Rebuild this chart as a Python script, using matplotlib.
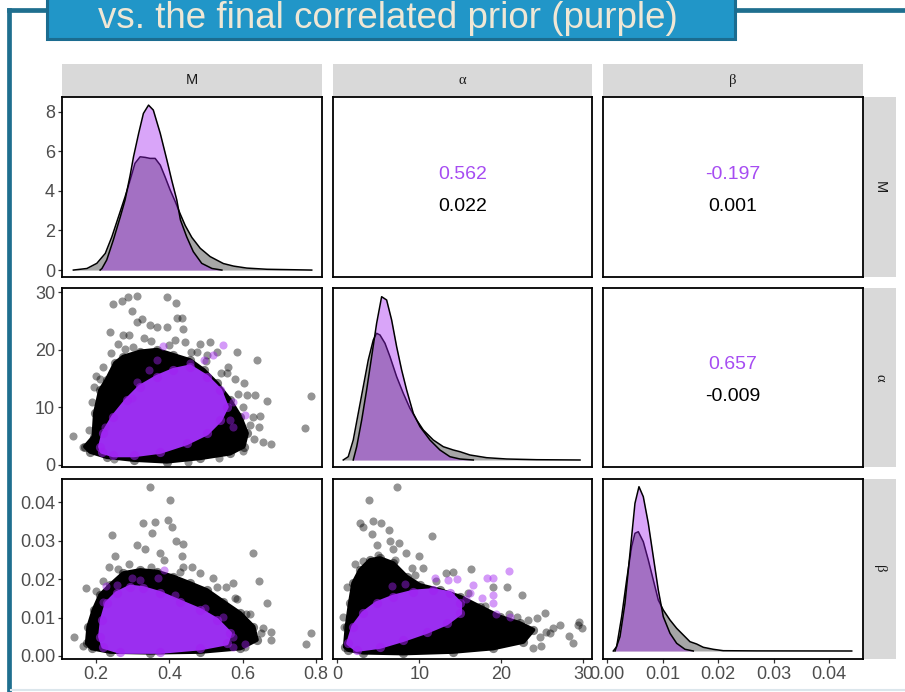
import matplotlib.pyplot as plt
from matplotlib.patches import Rectangle
from matplotlib.lines import Line2D

plt.rcParams['font.family'] = ['Liberation Sans', 'DejaVu Sans']

W, H = 905, 692
PURPLE = '#A020F0'
PURPLE_CORE = '#9b2ef0'
PURPLE_TEXT = '#a64cf2'

title = 'vs. the final correlated prior (purple)'
var_labels = ['M', 'α', 'β']

# ---- correlations: final correlated prior (purple) vs initial prior (black) ----
corr_cells = [(0, 1), (0, 2), (1, 2)]
corr_final = [0.562, -0.197, 0.657]
corr_initial = [0.022, 0.001, -0.009]

# ---- marginal densities ----
dens_M_init_x = [0.138, 0.175, 0.202, 0.225, 0.243, 0.261, 0.279, 0.293, 0.306, 0.320, 0.334, 0.347,
                 0.361, 0.375, 0.388, 0.402, 0.416, 0.429, 0.443, 0.461, 0.484, 0.511, 0.547, 0.575,
                 0.611, 0.666, 0.788]
dens_M_init_y = [0.00, 0.08, 0.34, 0.84, 1.68, 2.69, 3.70, 4.55, 5.39, 5.72, 5.69, 5.64,
                 5.64, 5.30, 4.71, 4.04, 3.45, 2.85, 2.25, 1.65, 1.10, 0.68, 0.33, 0.20,
                 0.10, 0.04, 0.00]
dens_M_final_x = [0.211, 0.216, 0.229, 0.247, 0.266, 0.279, 0.293, 0.302, 0.316, 0.329, 0.343, 0.356,
                  0.375, 0.393, 0.406, 0.420, 0.430, 0.447, 0.465, 0.488, 0.516, 0.543]
dens_M_final_y = [0.00, 0.08, 0.51, 1.52, 2.69, 3.54, 4.80, 5.72, 6.90, 7.91, 8.33, 8.08,
                  6.90, 5.56, 4.55, 3.54, 2.53, 1.68, 0.93, 0.34, 0.08, 0.00]

dens_a_init_x = [0.73, 1.34, 1.95, 2.56, 3.17, 3.78, 4.39, 4.80, 5.21, 5.82, 6.43, 7.24, 8.05,
                 8.86, 9.68, 10.49, 11.71, 12.93, 14.15, 14.96, 16.18, 18.22, 20.66, 24.32, 29.6]
dens_a_init_y = [0.0, 0.0033, 0.020, 0.0467, 0.0733, 0.100, 0.120, 0.1267, 0.125, 0.1167, 0.1033,
                 0.0833, 0.0667, 0.0517, 0.040, 0.030, 0.020, 0.0133, 0.010, 0.0083, 0.005,
                 0.0023, 0.001, 0.0003, 0.0]
dens_a_final_x = [1.95, 2.37, 2.98, 3.58, 4.19, 4.80, 5.41, 6.02, 6.63, 7.24, 7.85, 8.46, 9.27,
                  10.09, 11.30, 12.52, 13.74, 14.96, 16.59]
dens_a_final_y = [0.0, 0.0133, 0.040, 0.070, 0.1033, 0.1367, 0.1633, 0.160, 0.140, 0.1133, 0.090,
                  0.070, 0.0467, 0.0333, 0.020, 0.010, 0.0033, 0.001, 0.0]

dens_b_init_x = [0.00108, 0.00169, 0.00259, 0.00349, 0.00439, 0.00499, 0.00559, 0.00649, 0.00739,
                 0.00829, 0.00919, 0.01009, 0.01130, 0.01250, 0.01370, 0.01490, 0.01610, 0.01730,
                 0.01910, 0.02090, 0.02692, 0.04404]
dens_b_init_y = [0, 4.3, 34.3, 71, 104.3, 117.7, 119.3, 109.3, 91, 71, 51, 41, 31, 22.7, 16, 9.3,
                 7, 3.7, 1.7, 0.3, 0.1, 0]
dens_b_final_x = [0.00139, 0.00229, 0.00319, 0.00409, 0.00499, 0.00571, 0.00649, 0.00739, 0.00829,
                  0.00919, 0.01009, 0.01130, 0.01250, 0.01400, 0.01550]
dens_b_final_y = [0, 14.3, 47.7, 97.7, 147.7, 164.3, 154.3, 127.7, 94.3, 61, 34.3, 17.7, 7.7, 1.7, 0]

# ---- M vs alpha: dense cores (outline of the overplotted cloud) and loose points ----
ma_black_core_M = [0.170, 0.193, 0.197, 0.211, 0.229, 0.252, 0.274, 0.320, 0.366, 0.411, 0.456, 0.493,
                   0.529, 0.565, 0.593, 0.611, 0.602, 0.565, 0.484, 0.393, 0.302, 0.229, 0.184]
ma_black_core_a = [3.2, 4.9, 9.0, 13.0, 14.8, 17.7, 18.8, 19.7, 20.0, 19.1, 18.2, 16.5,
                   14.2, 11.3, 8.4, 5.5, 3.2, 2.0, 1.2, 0.6, 0.9, 1.4, 2.3]
ma_purple_core_M = [0.211, 0.220, 0.247, 0.284, 0.320, 0.366, 0.411, 0.456, 0.502, 0.538, 0.556, 0.538,
                    0.502, 0.447, 0.375, 0.302, 0.247, 0.216]
ma_purple_core_a = [3.2, 5.5, 8.4, 11.3, 13.6, 15.3, 16.5, 17.1, 15.3, 13.0, 10.1, 7.8,
                    5.5, 3.8, 2.3, 1.7, 1.7, 2.3]
ma_black_pts_M = [0.138, 0.165, 0.247, 0.270, 0.288, 0.311, 0.297, 0.393, 0.418, 0.238, 0.274, 0.311,
                  0.325, 0.347, 0.366, 0.393, 0.420, 0.434, 0.436, 0.415, 0.443, 0.484, 0.511, 0.475,
                  0.502, 0.529, 0.585, 0.638, 0.556, 0.602, 0.611, 0.634, 0.588, 0.665, 0.647, 0.629,
                  0.643, 0.656, 0.676, 0.534, 0.785, 0.771, 0.193, 0.211, 0.216,
                  0.26, 0.29, 0.33, 0.30, 0.24, 0.22, 0.20, 0.56, 0.58, 0.60, 0.62, 0.63, 0.60, 0.45, 0.25,
                  0.28, 0.35, 0.40, 0.46, 0.50, 0.54, 0.19, 0.18]
ma_black_pts_a = [5.0, 3.1, 28.0, 28.5, 29.2, 29.4, 26.8, 29.1, 28.1, 23.1, 22.6, 24.9,
                  25.3, 24.3, 24.0, 24.0, 25.5, 25.6, 23.7, 21.7, 21.4, 21.1, 21.4, 19.7,
                  19.1, 19.7, 19.6, 18.3, 15.9, 14.2, 12.2, 12.2, 12.4, 11.1, 8.5, 8.4,
                  6.6, 4.0, 3.6, 1.3, 12.0, 6.5, 13.6, 15.0, 11.9,
                  21.0, 22.5, 22.0, 20.5, 19.5, 17.0, 15.5, 17.0, 15.0, 10.0, 7.0, 4.5, 2.5, 0.5, 1.0,
                  20.2, 21.5, 20.8, 19.6, 18.0, 16.0, 11.0, 6.0]
ma_purple_pts_M = [0.545, 0.383, 0.520, 0.493, 0.456, 0.343, 0.366, 0.297, 0.606, 0.574, 0.574, 0.565,
                   0.225, 0.311]
ma_purple_pts_a = [20.8, 20.7, 19.1, 18.2, 17.7, 16.5, 18.2, 11.6, 8.7, 11.0, 6.6, 7.8, 6.6, 14.5]

# ---- M vs beta ----
mb_black_core_M = [0.175, 0.179, 0.193, 0.211, 0.238, 0.274, 0.320, 0.366, 0.411, 0.456, 0.502, 0.547,
                   0.593, 0.629, 0.638, 0.593, 0.484, 0.347, 0.238, 0.188]
mb_black_core_b = [0.0033, 0.0076, 0.0119, 0.0158, 0.0184, 0.0215, 0.0223, 0.0219, 0.0206, 0.0189,
                   0.0171, 0.0141, 0.0111, 0.0076, 0.0042, 0.0020, 0.0011, 0.0009, 0.0011, 0.0020]
mb_purple_core_M = [0.211, 0.216, 0.229, 0.256, 0.293, 0.329, 0.375, 0.429, 0.484, 0.529, 0.565, 0.556,
                    0.484, 0.375, 0.265, 0.220]
mb_purple_core_b = [0.0050, 0.0094, 0.0137, 0.0163, 0.0180, 0.0176, 0.0163, 0.0141, 0.0119, 0.0094,
                    0.0059, 0.0033, 0.0020, 0.0011, 0.0011, 0.0024]
mb_black_pts_M = [0.140, 0.165, 0.173, 0.243, 0.234, 0.252, 0.329, 0.347, 0.361, 0.352, 0.311, 0.334,
                  0.402, 0.397, 0.406, 0.418, 0.438, 0.434, 0.436, 0.461, 0.484, 0.520, 0.555, 0.574,
                  0.585, 0.609, 0.629, 0.645, 0.665, 0.656, 0.676, 0.676, 0.606, 0.773, 0.785, 0.375,
                  0.384, 0.26, 0.29, 0.35, 0.43, 0.53, 0.58, 0.62, 0.65, 0.20, 0.22]
mb_black_pts_b = [0.0050, 0.0026, 0.0177, 0.0314, 0.0232, 0.0260, 0.0345, 0.0440, 0.0347, 0.0319,
                  0.0288, 0.0277, 0.0405, 0.0353, 0.0334, 0.0300, 0.0291, 0.0260, 0.0232, 0.0230,
                  0.0215, 0.0202, 0.0180, 0.0189, 0.0147, 0.0109, 0.0267, 0.0195, 0.0139, 0.0072,
                  0.0063, 0.0042, 0.0024, 0.0030, 0.0059, 0.0267, 0.0249, 0.0225, 0.0238, 0.0232,
                  0.0218, 0.0180, 0.0150, 0.0110, 0.0060, 0.0170, 0.0195]
mb_purple_pts_M = [0.227, 0.256, 0.297, 0.320, 0.370, 0.384, 0.415, 0.497, 0.545, 0.574, 0.606, 0.574,
                   0.220]
mb_purple_pts_b = [0.0182, 0.0184, 0.0202, 0.0197, 0.0202, 0.0223, 0.0158, 0.0124, 0.0102, 0.0050,
                   0.0031, 0.0024, 0.0141]

# ---- alpha vs beta ----
ab_black_core_a = [0.94, 1.15, 1.55, 1.95, 2.77, 3.99, 5.21, 6.83, 8.46, 10.09, 12.52, 14.96,
                   17.40, 19.84, 22.28, 23.9, 22.7, 19.0, 14.1, 8.05, 3.17, 1.34]
ab_black_core_b = [0.0024, 0.0076, 0.0137, 0.0189, 0.0223, 0.0249, 0.0254, 0.0241, 0.0206, 0.0184,
                   0.0171, 0.0154, 0.0128, 0.0102, 0.0085, 0.0068, 0.0037, 0.0020, 0.0011, 0.0007,
                   0.0009, 0.0016]
ab_purple_core_a = [1.34, 1.95, 3.17, 4.80, 6.83, 9.27, 11.71, 13.74, 14.96, 14.96, 13.34, 10.9,
                    8.05, 5.21, 2.37]
ab_purple_core_b = [0.0033, 0.0076, 0.0111, 0.0137, 0.0154, 0.0167, 0.0171, 0.0163, 0.0137, 0.0111,
                    0.0085, 0.0063, 0.0042, 0.0024, 0.0016]
ab_black_pts_a = [7.24, 3.87, 2.77, 3.10, 4.32, 5.33, 6.34, 4.19, 4.88, 6.43, 7.56, 6.83, 8.38,
                  10.0, 11.5, 3.17, 9.07, 10.4, 13.3, 14.1, 16.3, 19.0, 20.7, 22.5, 21.9, 23.3,
                  24.3, 25.3, 26.3, 27.1, 24.7, 25.9, 23.9, 24.9, 28.2, 28.8, 29.5, 29.8, 29.3,
                  0.73, 0.82, 2.2, 5.0, 7.0, 9.5, 12.0, 16.0, 18.0, 21.0, 25.5, 1.2]
ab_black_pts_b = [0.0440, 0.0405, 0.0346, 0.0334, 0.0351, 0.0345, 0.0327, 0.0317, 0.0288, 0.0300,
                  0.0293, 0.0277, 0.0268, 0.0260, 0.0312, 0.0248, 0.0228, 0.0228, 0.0216, 0.0219,
                  0.0225, 0.0180, 0.0180, 0.0158, 0.0102, 0.0094, 0.0098, 0.0111, 0.0072, 0.0081,
                  0.0050, 0.0059, 0.0020, 0.0027, 0.0052, 0.0033, 0.0089, 0.0072, 0.0081, 0.0102,
                  0.0076, 0.0240, 0.0262, 0.0250, 0.0210, 0.0195, 0.0165, 0.0130, 0.0110, 0.0062,
                  0.0180]
ab_purple_pts_a = [21.0, 18.2, 19.0, 16.5, 14.6, 13.5, 11.9, 16.2, 15.7, 19.0, 19.0, 17.6, 19.4,
                   21.1, 6.63, 8.26]
ab_purple_pts_b = [0.0222, 0.0202, 0.0202, 0.0184, 0.0199, 0.0197, 0.0202, 0.0163, 0.0147, 0.0158,
                   0.0137, 0.0150, 0.0109, 0.0102, 0.0182, 0.0186]

densities = {
    0: (dens_M_init_x, dens_M_init_y, dens_M_final_x, dens_M_final_y),
    1: (dens_a_init_x, dens_a_init_y, dens_a_final_x, dens_a_final_y),
    2: (dens_b_init_x, dens_b_init_y, dens_b_final_x, dens_b_final_y),
}
scatters = {
    (1, 0): (ma_black_core_M, ma_black_core_a, ma_purple_core_M, ma_purple_core_a,
             ma_black_pts_M, ma_black_pts_a, ma_purple_pts_M, ma_purple_pts_a),
    (2, 0): (mb_black_core_M, mb_black_core_b, mb_purple_core_M, mb_purple_core_b,
             mb_black_pts_M, mb_black_pts_b, mb_purple_pts_M, mb_purple_pts_b),
    (2, 1): (ab_black_core_a, ab_black_core_b, ab_purple_core_a, ab_purple_core_b,
             ab_black_pts_a, ab_black_pts_b, ab_purple_pts_a, ab_purple_pts_b),
}

# axis ranges
x_ranges = [(0.107, 0.816), (-0.52, 31.06), (-0.00077, 0.04607)]
y_ranges = [(-0.35, 8.74), (-0.35, 30.75), (-0.00078, 0.046)]
diag_y_ranges = [(-0.35, 8.74), (-0.007, 0.172), (-8.0, 172.0)]
x_ticks = [[0.2, 0.4, 0.6, 0.8], [0, 10, 20, 30], [0.00, 0.01, 0.02, 0.03, 0.04]]
x_ticklabels = [['0.2', '0.4', '0.6', '0.8'], ['0', '10', '20', '30'],
                ['0.00', '0.01', '0.02', '0.03', '0.04']]
y_ticks = [[0, 2, 4, 6, 8], [0, 10, 20, 30], [0.00, 0.01, 0.02, 0.03, 0.04]]
y_ticklabels = [['0', '2', '4', '6', '8'], ['0', '10', '20', '30'],
                ['0.00', '0.01', '0.02', '0.03', '0.04']]

# panel pixel boxes
col_px = [(62, 322), (333, 592), (603, 863)]
row_px = [(97, 277), (288, 467), (479, 659)]
PT_SIZE = 34

fig = plt.figure(figsize=(W / 100, H / 100), dpi=100)


def px_axes(x0, y0, x1, y1):
    return fig.add_axes([x0 / W, 1 - y1 / H, (x1 - x0) / W, (y1 - y0) / H])


def strip(ax, label, rotation=0):
    ax.set_facecolor('#d9d9d9')
    ax.set_xticks([])
    ax.set_yticks([])
    for s in ax.spines.values():
        s.set_visible(False)
    fam = ['Liberation Sans'] if label == 'M' else ['Liberation Serif', 'DejaVu Serif']
    ax.text(0.5, 0.5, label, transform=ax.transAxes, ha='center', va='center',
            fontsize=10.5, color='#1a1a1a', rotation=rotation, family=fam)


# ===================== slide decoration =====================
frame_col = '#1f6f8f'
fig.add_artist(Line2D([9 / W, 9 / W], [1 - 10 / H, 0], color=frame_col, lw=3.4,
                      transform=fig.transFigure))
fig.add_artist(Line2D([9 / W, 1], [1 - 10 / H, 1 - 10 / H], color=frame_col, lw=3.4,
                      transform=fig.transFigure))
fig.add_artist(Line2D([11 / W, 1], [1 - 690 / H, 1 - 690 / H], color='#dbe6ec', lw=1.5,
                      transform=fig.transFigure))
fig.add_artist(Rectangle((47 / W, 1 - 39 / H), (735 - 47) / W, 45 / H, transform=fig.transFigure,
                         facecolor='#2196c8', edgecolor='#1b6c90', lw=2.2, zorder=3))
fig.text(388 / W, 1 - 19 / H, title, ha='center', va='center', fontsize=26.5,
         color='#efe7d5', zorder=4)

# ===================== strips =====================
for j, (x0, x1) in enumerate(col_px):
    strip(px_axes(x0, 64, x1, 96.5), var_labels[j])
for i, (y0, y1) in enumerate(row_px):
    strip(px_axes(863.5, y0, 896, y1), var_labels[i], rotation=270)

# ===================== panels =====================
for i, (y0, y1) in enumerate(row_px):
    for j, (x0, x1) in enumerate(col_px):
        ax = px_axes(x0, y0, x1, y1)
        ax.set_xlim(*x_ranges[j])
        for s in ax.spines.values():
            s.set_color('black')
            s.set_linewidth(1.3)
            s.set_zorder(10)

        if i == j:
            gx, gy, px, py = densities[i]
            ax.fill_between(gx, 0, gy, color='black', alpha=0.35, lw=0, zorder=1)
            ax.plot(gx, gy, color='black', lw=1.1, zorder=2)
            ax.fill_between(px, 0, py, color=PURPLE, alpha=0.4, lw=0, zorder=3)
            ax.plot(px, py, color='black', lw=1.1, zorder=4)
            ax.set_ylim(*diag_y_ranges[i])
        elif i > j:
            bcx, bcy, pcx, pcy, bpx, bpy, ppx, ppy = scatters[(i, j)]
            ax.fill(bcx, bcy, color='black', lw=3, joinstyle='round', zorder=1)
            ax.scatter(bcx, bcy, s=PT_SIZE + 10, color='black', alpha=0.5, lw=0, zorder=1)
            ax.scatter(bpx, bpy, s=PT_SIZE, color='black', alpha=0.42, lw=0, zorder=1)
            ax.fill(pcx, pcy, color=PURPLE_CORE, lw=3, joinstyle='round', zorder=2)
            ax.scatter(pcx, pcy, s=PT_SIZE + 10, color=PURPLE, alpha=0.55, lw=0, zorder=2)
            ax.scatter(ppx, ppy, s=PT_SIZE, color=PURPLE, alpha=0.45, lw=0, zorder=2)
            ax.set_ylim(*y_ranges[i])
        else:
            k = corr_cells.index((i, j))
            ax.text(0.5, 0.572, f'{corr_final[k]:.3f}', transform=ax.transAxes, ha='center',
                    va='center', fontsize=14, color=PURPLE_TEXT)
            ax.text(0.5, 0.394, f'{corr_initial[k]:.3f}', transform=ax.transAxes, ha='center',
                    va='center', fontsize=14, color='black')

        ax.set_xticks([])
        ax.set_yticks([])
        if j == 0:
            ax.set_yticks(y_ticks[i])
            ax.set_yticklabels(y_ticklabels[i])
        if i == 2:
            ax.set_xticks(x_ticks[j])
            ax.set_xticklabels(x_ticklabels[j])
        ax.tick_params(length=3, width=0.9, color='#333333', labelsize=13,
                       labelcolor='#4d4d4d', pad=2)

fig.savefig('out.png', dpi=100)
